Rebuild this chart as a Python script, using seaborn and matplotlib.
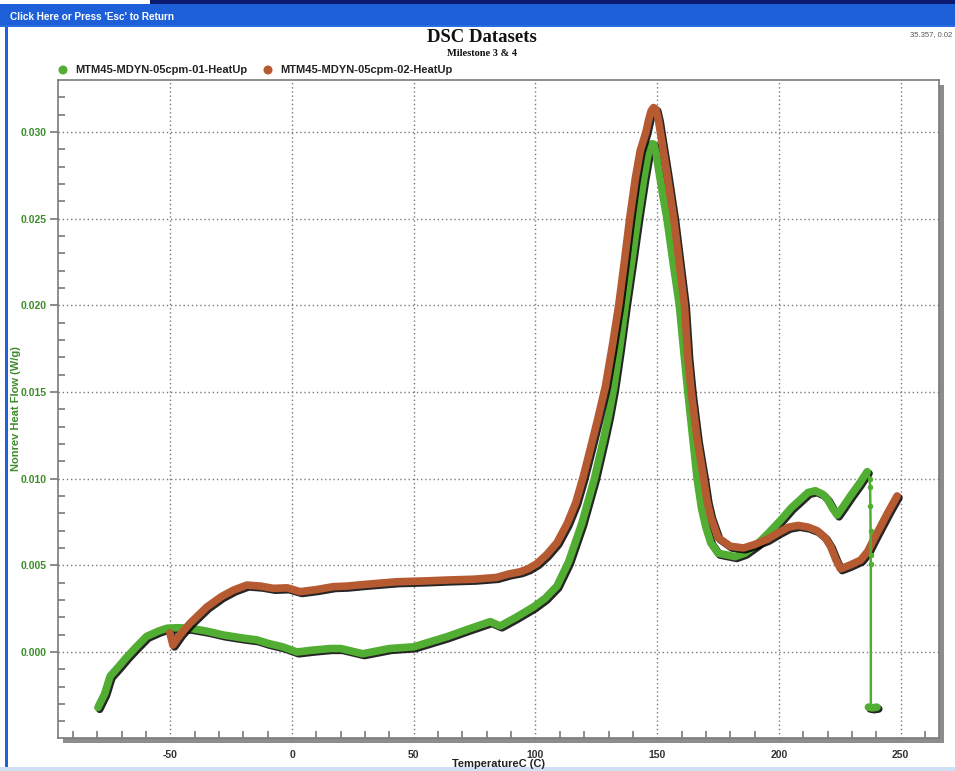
import matplotlib
matplotlib.use("Agg")
import numpy as np
import pandas as pd
import seaborn as sns
import matplotlib.pyplot as plt
from matplotlib import patheffects as pe
from matplotlib.patches import Rectangle
from matplotlib.lines import Line2D
from matplotlib.ticker import MultipleLocator, FormatStrFormatter

# ---------------- data ----------------
series_names = ["MTM45-MDYN-05cpm-01-HeatUp", "MTM45-MDYN-05cpm-02-HeatUp"]

temp_01 = [-79.8, -77, -74.8, -71, -68, -64, -59.8, -55, -51.5, -47, -42, -35, -28.2,
           -20, -14.5, -10, -4, 2, 8, 15.6, 20, 29, 40, 50, 57, 63.6, 72, 81.4, 85.5,
           92, 99.2, 104, 108.8, 113.6, 119, 124.2, 128, 130, 132.1, 134.5, 136.9, 139.5,
           142, 144.5, 146.5, 147.5, 148.5, 149.5, 150.5, 152.5, 154, 156.5, 159.1, 161.3,
           162.6, 164.5, 166.4, 168.2, 170, 172, 175, 182, 186, 191, 196, 200.7, 205, 208.9,
           212, 215, 218, 220, 222, 224, 226.5, 229.4, 233, 236.3]
flow_01 = [-0.0032, -0.0024, -0.0014, -0.0008, -0.0003, 0.0003, 0.0009, 0.0012, 0.00137,
           0.0014, 0.00137, 0.0012, 0.00098, 0.0008, 0.0007, 0.0005, 0.0003, 0.0, 0.0001,
           0.0002, 0.0002, -0.0001, 0.0002, 0.0003, 0.0006, 0.00088, 0.0013, 0.00175,
           0.0015, 0.002, 0.0026, 0.0031, 0.0038, 0.0052, 0.0074, 0.010, 0.0123, 0.0136,
           0.0152, 0.0175, 0.020, 0.0225, 0.025, 0.0273, 0.0289, 0.0293, 0.0293, 0.0288,
           0.0279, 0.0262, 0.025, 0.0225, 0.020, 0.0168, 0.015, 0.0125, 0.010, 0.0083,
           0.0072, 0.0063, 0.0057, 0.0055, 0.0057, 0.0062, 0.0069, 0.0076, 0.0083, 0.0088,
           0.0092, 0.0093, 0.0091, 0.0088, 0.0083, 0.0079, 0.0084, 0.0090, 0.0097, 0.0104]

drop_temp_01 = [236.3, 237.3, 237.5, 237.6, 237.7, 237.7, 237.8, 237.8]
drop_flow_01 = [0.0104, 0.0100, 0.0095, 0.0084, 0.0070, 0.0056, 0.0051, -0.0032]
tail_temp_01 = [236.8, 238.5, 240.3]
tail_flow_01 = [-0.00318, -0.00322, -0.00318]

temp_02 = [-50.2, -49, -46, -42, -35, -29, -24.1, -18.6, -13, -7.7, -2, 3.3, 10, 17,
           22.5, 30, 43, 55, 63.6, 75, 84, 89, 93.8, 97, 100.6, 104.5, 108.8, 113,
           116.5, 119.4, 122.5, 125.5, 128.7, 131.5, 134.2, 136.5, 138.7, 141, 143,
           145.4, 146.5, 147.5, 148.5, 149.5, 150.5, 151.5, 154, 156.8, 159, 161.2, 162.6,
           164, 166.5, 169.1, 170.5, 172, 175, 180, 185.5, 190, 195.2, 200, 204, 208, 212,
           215.7, 219, 221.2, 223.5, 225.3, 229, 233.6, 236.5, 239, 242, 245, 248.6]
flow_02 = [0.0011, 0.0004, 0.0010, 0.00165, 0.0026, 0.0032, 0.00357, 0.00386, 0.0038,
           0.00367, 0.0037, 0.00348, 0.0036, 0.00377, 0.0038, 0.0039, 0.00405, 0.0041,
           0.00415, 0.0042, 0.0043, 0.0045, 0.00463, 0.0048, 0.0051, 0.0056, 0.0063,
           0.0074, 0.0086, 0.0100, 0.0117, 0.0134, 0.0153, 0.0176, 0.020, 0.0225, 0.025,
           0.0273, 0.0289, 0.0300, 0.0307, 0.0312, 0.0314, 0.0313, 0.0307, 0.0298, 0.0276,
           0.025, 0.0225, 0.020, 0.0170, 0.015, 0.0122, 0.010, 0.0087, 0.0078, 0.0066,
           0.0061, 0.0060, 0.0062, 0.0065, 0.0069, 0.0072, 0.0073, 0.0072, 0.0070, 0.0066,
           0.0061, 0.0053, 0.0048, 0.0050, 0.0053, 0.0058, 0.0065, 0.0073, 0.0081, 0.0090]

x_ticks = [-50, 0, 50, 100, 150, 200, 250]
y_ticks = [0.000, 0.005, 0.010, 0.015, 0.020, 0.025, 0.030]

title = "DSC Datasets"
subtitle = "Milestone 3 & 4"
x_label = "TemperatureC (C)"
y_label = "Nonrev Heat Flow (W/g)"
bar_text = "Click Here or Press 'Esc' to Return"
corner_text = "35.357, 0.02"

# ---------------- styling ----------------
GREEN = "#52ad33"
BROWN = "#b65a32"
LABEL_GREEN = "#3d8c2c"
W, H = 955, 771

sns.set_theme(style="white")
plt.rcParams["font.family"] = ["Liberation Sans", "DejaVu Sans"]

fig = plt.figure(figsize=(W / 100, H / 100), dpi=100)
fig.patch.set_facecolor("white")


def frect(x0, y0, x1, y1, color, z):
    r = Rectangle((x0 / W, 1 - y1 / H), (x1 - x0) / W, (y1 - y0) / H,
                  transform=fig.transFigure, color=color, zorder=z, lw=0)
    fig.add_artist(r)


# window chrome
frect(150, 0, W, 4, "#0b1a6e", 3)
frect(0, 4, W, 27, "#1d5fd8", 3)
frect(0, 25, W, 27, "#2b6de0", 3)
frect(5, 27, 8, 769, "#1f5fe0", 3)
frect(0, 767, W, 771, "#cfe0f6", 3)
fig.text(10 / W, 1 - 17 / H, bar_text, color="white", fontsize=7.2,
         fontweight="bold", va="center", ha="left", zorder=4)

# plot frame shadow
L, R, T, B = 58, 939, 80, 738
frect(L + 5, T + 5, R + 5, B + 5, "#8c8c8c", 0.5)

ax = fig.add_axes([L / W, 1 - B / H, (R - L) / W, (B - T) / H])
ax.set_zorder(1)
ax.set_facecolor("white")

df = pd.concat([
    pd.DataFrame({"Temperature": temp_01, "Flow": flow_01, "Series": series_names[0]}),
    pd.DataFrame({"Temperature": temp_02, "Flow": flow_02, "Series": series_names[1]}),
], ignore_index=True)

shadow = [pe.SimpleLineShadow(offset=(1.3, -1.3), shadow_color="black", alpha=0.85),
          pe.Normal()]

sns.lineplot(data=df, x="Temperature", y="Flow", hue="Series",
             palette={series_names[0]: GREEN, series_names[1]: BROWN},
             sort=False, estimator=None, linewidth=5.5, legend=False, ax=ax,
             solid_capstyle="round", solid_joinstyle="round")
for ln in ax.lines:
    ln.set_path_effects(shadow)

# green drop to the end
sns.lineplot(x=drop_temp_01, y=drop_flow_01, sort=False, estimator=None,
             color=GREEN, linewidth=1.8, marker="o", markersize=4,
             markeredgewidth=0, ax=ax)
sns.lineplot(x=tail_temp_01, y=tail_flow_01, sort=False, estimator=None,
             color=GREEN, linewidth=5.5, ax=ax, solid_capstyle="round")
ax.lines[-1].set_path_effects(shadow)

ax.set_xlim(-96.2, 265.8)
ax.set_ylim(-0.00496, 0.03299)
ax.set_xticks(x_ticks)
ax.set_yticks(y_ticks)
ax.xaxis.set_minor_locator(MultipleLocator(10))
ax.yaxis.set_minor_locator(MultipleLocator(0.001))
ax.yaxis.set_major_formatter(FormatStrFormatter("%.3f"))
ax.xaxis.set_major_formatter(FormatStrFormatter("%d"))

ax.grid(True, which="major", linestyle=(0, (1, 2)), color="#7a7a7a", linewidth=1.0)
ax.set_axisbelow(True)

for s in ax.spines.values():
    s.set_color("#7a7a7a")
    s.set_linewidth(1.2)

ax.tick_params(axis="y", which="major", direction="out", length=6, width=1.1,
               color="#6e6e6e", labelcolor=LABEL_GREEN, labelsize=7.5, pad=2, left=True)
ax.tick_params(axis="y", which="minor", direction="in", length=5, width=1.1,
               color="#6e6e6e", left=True)
ax.tick_params(axis="x", which="major", direction="in", length=0, width=1.1,
               color="#6e6e6e", labelcolor="#333333", labelsize=7.5, pad=9, bottom=True)
ax.tick_params(axis="x", which="minor", direction="in", length=5, width=1.1,
               color="#6e6e6e", bottom=True)
for t in ax.get_xticklabels() + ax.get_yticklabels():
    t.set_fontweight("bold")

ax.set_xlabel("")
ax.set_ylabel("")
fig.text((L + R) / 2 / W, 1 - 764 / H, x_label, fontsize=8, fontweight="bold",
         color="#222222", ha="center", va="center")
fig.text(16 / W, 1 - ((T + B) / 2) / H, y_label, fontsize=8, fontweight="bold",
         color=LABEL_GREEN, ha="center", va="center", rotation=90)

# titles
fig.text(482 / W, 1 - 37 / H, title, fontsize=13.5, fontweight="bold",
         family=["Liberation Serif", "DejaVu Serif"], ha="center", va="center",
         color="#111111")
fig.text(482 / W, 1 - 54 / H, subtitle, fontsize=7.5, fontweight="bold",
         family=["Liberation Serif", "DejaVu Serif"], ha="center", va="center",
         color="#111111")
fig.text(952 / W, 1 - 35 / H, corner_text, fontsize=5.5, color="#555555",
         ha="right", va="center")

# legend
for px, name, col in [(63, series_names[0], GREEN), (268, series_names[1], BROWN)]:
    mk = Line2D([px / W], [1 - 70 / H], marker="o", markersize=6.5, color=col,
                markeredgewidth=0, transform=fig.transFigure, zorder=4)
    mk.set_path_effects(shadow)
    fig.add_artist(mk)
    fig.text((px + 12) / W, 1 - 70 / H, name, fontsize=8, fontweight="bold",
             color="#222222", ha="left", va="center")

fig.savefig("out.png", dpi=100)
